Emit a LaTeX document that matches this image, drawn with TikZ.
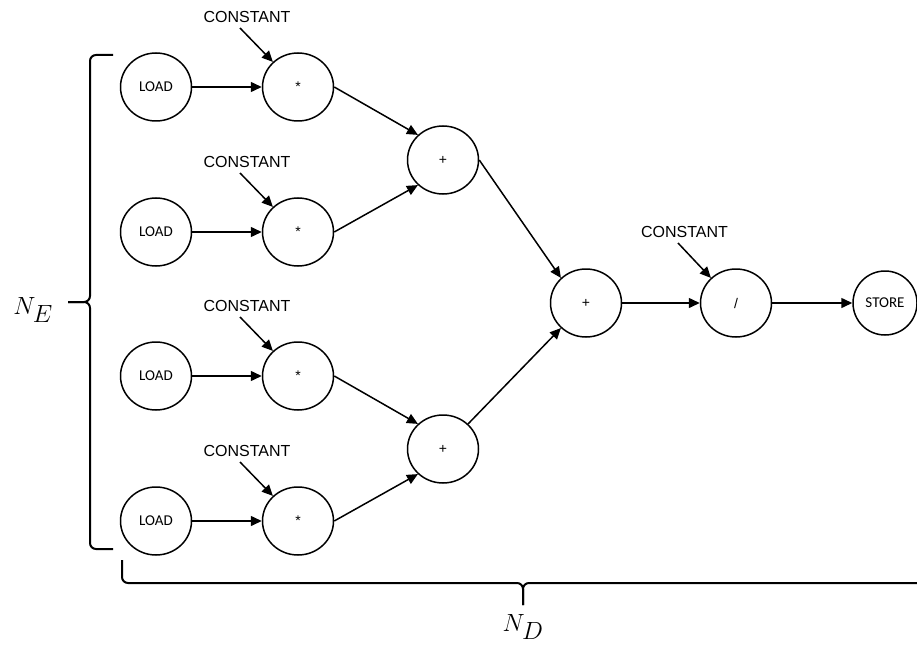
\documentclass[tikz,border=0pt]{standalone}
\usepackage{fontspec}
\setmainfont{Liberation Sans}
\newfontfamily\opfont{Carlito}
\usetikzlibrary{arrows.meta,shapes.geometric}

\tikzset{
  opnode/.style={ellipse, draw, line width=1.5pt, minimum width=71pt,
    minimum height=68pt, inner sep=0pt,
    font=\fontsize{14}{16}\selectfont},
  ionode/.style={opnode, font=\opfont\fontsize{15}{17}\selectfont},
  constlabel/.style={font=\fontsize{16}{18}\selectfont, inner sep=0pt},
  flow/.style={line width=1.5pt, -{Triangle[length=11pt,width=10pt]}},
  bracket/.style={line width=2pt, rounded corners=6pt},
  countlabel/.style={font=\fontsize{34}{36}\selectfont, inner sep=0pt, anchor=base}
}

\begin{document}
\begin{tikzpicture}[x=1pt, y=-1pt]
\useasboundingbox (0,0) rectangle (917,647);
\clip (0,0) rectangle (917,647);

% loads and multiplications, one row each
\foreach \i/\y in {1/87, 2/232, 3/376, 4/521} {
  \node[ionode] (l\i) at (156,\y) {LOAD};
  \node[opnode] (m\i) at (298,\y) {*};
  \node[constlabel] (k\i) at (247,\y-70) {CONSTANT};
  \coordinate (kc\i) at (240,\y-59);
  \draw[flow] (l\i.east) -- (m\i.west);
  \draw[flow] (kc\i) -- (m\i.135);
}

% pairwise sums
\node[opnode] (a1) at (443,160) {+};
\node[opnode] (a2) at (443,449) {+};
\draw[flow] (m1.east) -- (a1.135);
\draw[flow] (m2.east) -- (a1.225);
\draw[flow] (m3.east) -- (a2.135);
\draw[flow] (m4.east) -- (a2.225);

% final sum, division and store
\node[opnode] (f) at (586,303) {+};
\node[opnode] (d) at (736,303) {/};
\node[ionode, minimum width=64pt, minimum height=64pt] (s) at (885,303) {STORE};
\node[constlabel] (k5) at (684.5,232) {CONSTANT};
\coordinate (kc5) at (678,243);
\draw[flow] (a1.east) -- (f.135);
\draw[flow] (a2.45) -- (f.225);
\draw[flow] (f.east) -- (d.west);
\draw[flow] (d.east) -- (s.west);
\draw[flow] (kc5) -- (d.135);

% left brace over the four rows
\draw[bracket] (113,55) -- (90,55) -- (90,302) -- (68,302);
\draw[bracket] (68,302) -- (90,302) -- (90,549) -- (113,549);
\node[countlabel] (ne) at (33,314) {$N_E$};

% bottom brace across the whole pipeline
\draw[bracket] (122,560) -- (122,583) -- (523,583) -- (523,605);
\draw[bracket] (523,605) -- (523,583) -- (924,583) -- (924,560);
\node[countlabel] (nd) at (523,631) {$N_D$};
\end{tikzpicture}
\end{document}
